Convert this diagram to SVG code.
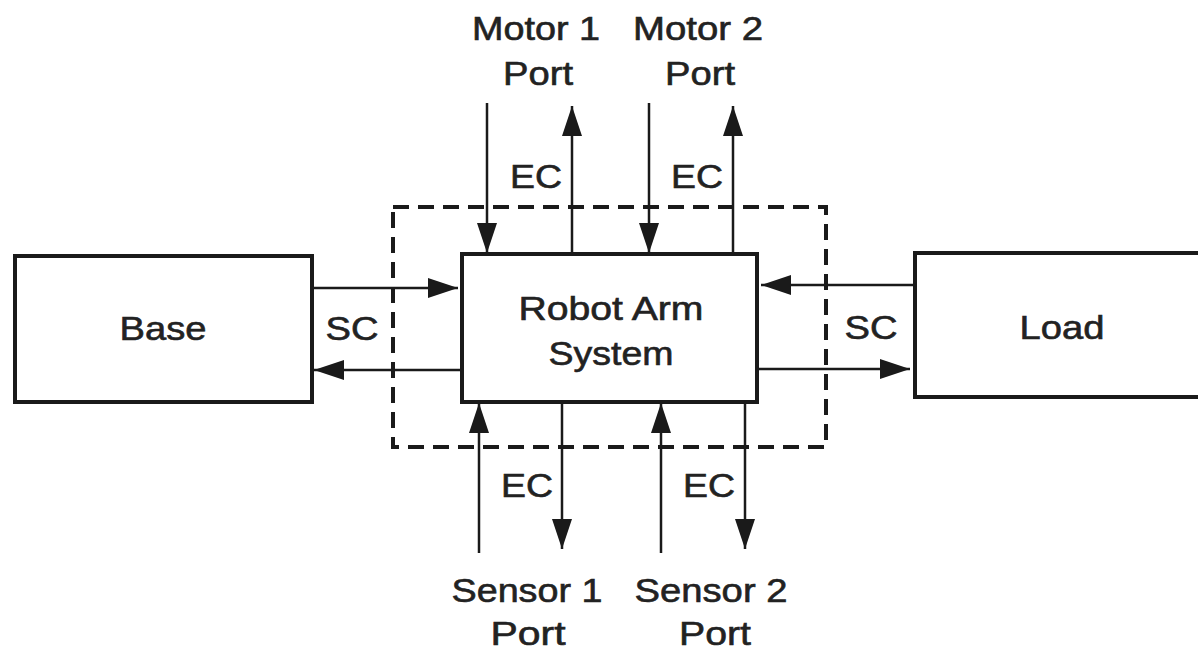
<svg xmlns="http://www.w3.org/2000/svg" width="1198" height="651" viewBox="0 0 1198 651">
<style>
  .box { fill: #fff; stroke: #1a1a1a; stroke-width: 4; }
  .dash { fill: none; stroke: #1a1a1a; stroke-width: 4; stroke-dasharray: 16 9; }
  .ln { fill: none; stroke: #1a1a1a; stroke-width: 2.5; marker-end: url(#ah); }
  text { font-family: "Liberation Sans", Arial, sans-serif; font-size: 33px; fill: #222; stroke: #222; stroke-width: 0.6; text-anchor: middle; }
</style>
<defs>
  <marker id="ah" markerUnits="userSpaceOnUse" markerWidth="32" markerHeight="22" refX="30" refY="10" orient="auto">
    <path d="M0,0 L30,10 L0,20 z" fill="#1a1a1a"/>
  </marker>
</defs>
<rect width="1198" height="651" fill="#fff"/>
<g id="boundary">
  <rect class="dash" x="393" y="207" width="433" height="240"/>
</g>
<g id="base">
  <rect class="box" x="15" y="256" width="297" height="146"/>
  <text x="163" y="340" textLength="87" lengthAdjust="spacingAndGlyphs">Base</text>
</g>
<g id="robot">
  <rect class="box" x="462" y="254" width="295" height="148"/>
  <text x="611" y="320" textLength="185" lengthAdjust="spacingAndGlyphs">Robot Arm</text>
  <text x="611" y="365" textLength="125" lengthAdjust="spacingAndGlyphs">System</text>
</g>
<g id="load">
  <rect class="box" x="915" y="253" width="300" height="144"/>
  <text x="1062" y="339" textLength="85" lengthAdjust="spacingAndGlyphs">Load</text>
</g>
<g id="motor1">
  <text x="536" y="40" textLength="128" lengthAdjust="spacingAndGlyphs">Motor 1</text>
  <text x="538" y="85" textLength="70" lengthAdjust="spacingAndGlyphs">Port</text>
</g>
<g id="motor2">
  <text x="698" y="40" textLength="130" lengthAdjust="spacingAndGlyphs">Motor 2</text>
  <text x="700" y="85" textLength="70" lengthAdjust="spacingAndGlyphs">Port</text>
</g>
<g id="sensor1">
  <text x="527" y="602" textLength="151" lengthAdjust="spacingAndGlyphs">Sensor 1</text>
  <text x="528" y="645" textLength="75" lengthAdjust="spacingAndGlyphs">Port</text>
</g>
<g id="sensor2">
  <text x="711" y="602" textLength="153" lengthAdjust="spacingAndGlyphs">Sensor 2</text>
  <text x="715" y="645" textLength="72" lengthAdjust="spacingAndGlyphs">Port</text>
</g>
<g id="connectors">
  <line class="ln" x1="487" y1="103" x2="487" y2="253"/>
  <line class="ln" x1="572" y1="253" x2="572" y2="106"/>
  <line class="ln" x1="649" y1="103" x2="649" y2="253"/>
  <line class="ln" x1="733" y1="253" x2="733" y2="106"/>
  <line class="ln" x1="479" y1="553" x2="479" y2="403"/>
  <line class="ln" x1="562" y1="403" x2="562" y2="549"/>
  <line class="ln" x1="661" y1="553" x2="661" y2="403"/>
  <line class="ln" x1="745" y1="403" x2="745" y2="549"/>
  <line class="ln" x1="313" y1="288" x2="458" y2="288"/>
  <line class="ln" x1="462" y1="370" x2="314" y2="370"/>
  <line class="ln" x1="915" y1="285" x2="761" y2="285"/>
  <line class="ln" x1="757" y1="369" x2="910" y2="369"/>
  <text x="536" y="188" textLength="52" lengthAdjust="spacingAndGlyphs">EC</text>
  <text x="697" y="188" textLength="52" lengthAdjust="spacingAndGlyphs">EC</text>
  <text x="527" y="497" textLength="52" lengthAdjust="spacingAndGlyphs">EC</text>
  <text x="709" y="497" textLength="52" lengthAdjust="spacingAndGlyphs">EC</text>
  <text x="352" y="340" textLength="53" lengthAdjust="spacingAndGlyphs">SC</text>
  <text x="871" y="339" textLength="53" lengthAdjust="spacingAndGlyphs">SC</text>
</g>
</svg>
